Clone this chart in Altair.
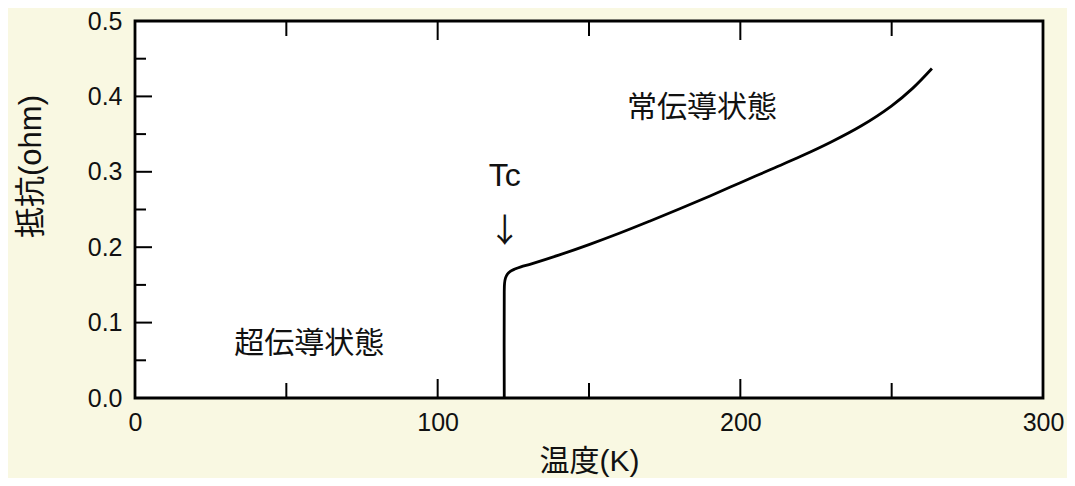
import altair as alt
import pandas as pd

# Resistance curve (temperature K, resistance ohm)
temp_k = [122.0, 122.0, 122.1, 122.4, 123.0, 124.0, 125.5, 127.5, 131.0, 140.0, 150.0, 160.0,
          170.0, 180.0, 190.0, 200.0, 210.0, 220.0, 230.0, 240.0, 250.0, 257.0, 263.3]
resist = [0.000, 0.140, 0.152, 0.159, 0.164, 0.168, 0.171, 0.174, 0.178, 0.1895, 0.2035, 0.2185,
          0.2345, 0.251, 0.268, 0.2855, 0.303, 0.3205, 0.3395, 0.361, 0.3875, 0.411, 0.437]

# Annotations
ann_text = ["常伝導状態", "超伝導状態"]
ann_x = [187.3, 57.6]
ann_y = [0.385, 0.072]
tc_text = ["Tc"]
tc_x = [122.2]
tc_y = [0.2944]
arrow_text = ["↓"]
arrow_x = [122.2]
arrow_y = [0.220]

# Tick positions
x_major = [0, 100, 200, 300]
x_minor = [50, 150, 250]
y_major = [0.0, 0.1, 0.2, 0.3, 0.4, 0.5]
y_minor = [0.05, 0.15, 0.25, 0.35, 0.45]

W, H = 908, 377
CJK = "Noto Sans CJK JP"
LAT = "Liberation Sans, Noto Sans CJK JP"

curve = pd.DataFrame({"T": temp_k, "R": resist})
ann = pd.DataFrame({"t": ann_text, "T": ann_x, "R": ann_y})
tc = pd.DataFrame({"t": tc_text, "T": tc_x, "R": tc_y})
arr = pd.DataFrame({"t": arrow_text, "T": arrow_x, "R": arrow_y})
xmaj = pd.DataFrame({"T": [v for v in x_major if 0 < v < 300]})
xmin = pd.DataFrame({"T": x_minor})
ymaj = pd.DataFrame({"R": [v for v in y_major if 0 < v < 0.5]})
ymin = pd.DataFrame({"R": y_minor})

xscale = alt.Scale(domain=[0, 300], nice=False, zero=False)
yscale = alt.Scale(domain=[0, 0.5], nice=False, zero=False)

xaxis = alt.Axis(values=x_major, ticks=False, domain=False, grid=False, format="d",
                 labelFontSize=25, labelPadding=12, labelFlush=False, labelOverlap=False,
                 title="温度(K)", titleFontSize=30, titleFontWeight="normal",
                 titleX=W / 2, titleY=63, titleAlign="center", titleBaseline="middle")
yaxis = alt.Axis(values=y_major, ticks=False, domain=False, grid=False, format=".1f",
                 labelFontSize=25, labelPadding=13, labelFlush=False, labelOverlap=False,
                 title="抵抗(ohm)", titleFontSize=31, titleFontWeight="normal",
                 titleX=-104, titleY=145, titleAngle=270, titleAlign="center", titleBaseline="middle")

line = alt.Chart(curve).mark_line(color="black", strokeWidth=2.8, interpolate="catmull-rom").encode(
    x=alt.X("T:Q", scale=xscale, axis=xaxis),
    y=alt.Y("R:Q", scale=yscale, axis=yaxis),
)

def xt(df, y1, y2):
    return alt.Chart(df).mark_rule(color="black", strokeWidth=2).encode(
        x=alt.X("T:Q", scale=xscale), y=alt.value(y1), y2=alt.value(y2))

def yt(df, x1, x2):
    return alt.Chart(df).mark_rule(color="black", strokeWidth=2).encode(
        y=alt.Y("R:Q", scale=yscale), x=alt.value(x1), x2=alt.value(x2))

ticks = [
    xt(xmaj, H, H - 19), xt(xmin, H, H - 15),
    xt(xmaj, 0, 19), xt(xmin, 0, 15),
    yt(ymaj, 0, 17), yt(ymin, 0, 11),
]

ann_layer = alt.Chart(ann).mark_text(font=CJK, fontSize=30, color="#111111").encode(
    x=alt.X("T:Q", scale=xscale), y=alt.Y("R:Q", scale=yscale), text="t:N")
tc_layer = alt.Chart(tc).mark_text(font=LAT, fontSize=32, color="#111111").encode(
    x=alt.X("T:Q", scale=xscale), y=alt.Y("R:Q", scale=yscale), text="t:N")
arr_layer = alt.Chart(arr).mark_text(font=CJK, fontSize=33, color="#111111").encode(
    x=alt.X("T:Q", scale=xscale), y=alt.Y("R:Q", scale=yscale), text="t:N")

chart = alt.layer(line, *ticks, ann_layer, tc_layer, arr_layer).properties(
    width=W, height=H,
    autosize=alt.AutoSizeParams(type="none"),
    padding={"left": 127, "top": 13, "right": 24, "bottom": 80},
    background="#f9f8e2",
).configure_view(
    stroke="black", strokeWidth=2.8, fill="white"
).configure_axis(
    labelFont=LAT, titleFont=LAT, labelColor="#111111", titleColor="#111111"
)

chart.save("out.html", embed_options={"renderer": "svg", "actions": False})
